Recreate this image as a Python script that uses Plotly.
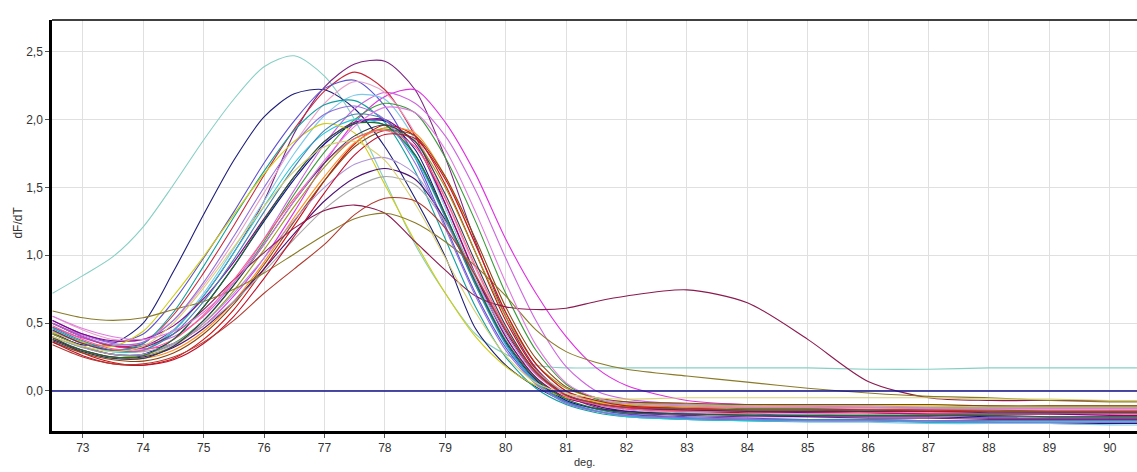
import plotly.graph_objects as go

# Temperature grid (deg.)
temps = [72.5, 73.0, 73.5, 74.0, 74.5, 75.0, 75.5, 76.0, 76.5, 77.0, 77.5, 78.0, 78.5, 79.0,
         79.5, 80.0, 80.5, 81.0, 81.5, 82.0, 83.0, 84.0, 85.0, 86.0, 87.0, 88.0, 89.0, 90.0, 90.6]

# dF/dT series
s_lightteal = [0.72,0.85,0.99,1.21,1.52,1.85,2.15,2.39,2.47,2.32,2.00,1.55,1.08,0.72,0.42,0.27,0.19,0.17,0.17,0.17,0.17,0.17,0.17,0.16,0.16,0.17,0.17,0.17,0.17]
s_navy = [0.42,0.34,0.35,0.50,0.88,1.30,1.70,2.02,2.19,2.22,2.08,1.80,1.42,0.99,0.46,0.19,0.03,-0.08,-0.14,-0.17,-0.20,-0.21,-0.22,-0.22,-0.23,-0.23,-0.24,-0.24,-0.24]
s_purple = [0.50,0.40,0.33,0.33,0.45,0.70,1.02,1.40,1.90,2.24,2.41,2.43,2.22,1.72,1.10,0.55,0.17,-0.03,-0.12,-0.16,-0.18,-0.19,-0.19,-0.20,-0.20,-0.21,-0.21,-0.21,-0.21]
s_magenta = [0.47,0.39,0.33,0.31,0.35,0.48,0.70,0.98,1.32,1.68,1.98,2.17,2.22,1.98,1.60,1.12,0.72,0.40,0.17,0.04,-0.07,-0.10,-0.11,-0.12,-0.12,-0.12,-0.12,-0.12,-0.12]
s_violetpink = [0.50,0.41,0.35,0.34,0.40,0.55,0.80,1.12,1.48,1.82,2.08,2.20,2.12,1.88,1.48,0.98,0.52,0.18,0.00,-0.06,-0.10,-0.12,-0.13,-0.13,-0.14,-0.14,-0.14,-0.14,-0.14]
s_crimson = [0.50,0.40,0.33,0.35,0.56,0.87,1.22,1.59,1.93,2.21,2.35,2.22,1.88,1.38,0.85,0.40,0.10,-0.05,-0.10,-0.12,-0.13,-0.14,-0.14,-0.15,-0.15,-0.15,-0.16,-0.16,-0.16]
s_blueviolet = [0.52,0.42,0.36,0.42,0.66,0.98,1.32,1.68,1.99,2.23,2.29,2.10,1.72,1.22,0.72,0.32,0.06,-0.08,-0.14,-0.17,-0.19,-0.20,-0.21,-0.21,-0.22,-0.22,-0.22,-0.22,-0.22]
s_lightpink = [0.55,0.45,0.38,0.38,0.52,0.78,1.10,1.46,1.82,2.12,2.28,2.20,1.90,1.42,0.90,0.45,0.14,-0.02,-0.08,-0.11,-0.12,-0.12,-0.12,-0.13,-0.13,-0.13,-0.13,-0.13,-0.13]
s_skyblue = [0.44,0.35,0.29,0.30,0.45,0.72,1.05,1.40,1.75,2.03,2.18,2.15,1.85,1.35,0.82,0.38,0.08,-0.07,-0.14,-0.18,-0.21,-0.22,-0.23,-0.23,-0.24,-0.24,-0.24,-0.25,-0.25]
s_teal = [0.46,0.36,0.30,0.35,0.58,0.92,1.28,1.62,1.92,2.11,2.14,1.98,1.62,1.12,0.62,0.25,0.02,-0.10,-0.16,-0.19,-0.21,-0.22,-0.22,-0.22,-0.22,-0.23,-0.23,-0.23,-0.23]
s_green = [0.40,0.32,0.27,0.27,0.35,0.52,0.78,1.10,1.45,1.76,2.00,2.12,2.05,1.72,1.25,0.72,0.30,0.05,-0.06,-0.10,-0.12,-0.13,-0.13,-0.14,-0.14,-0.14,-0.15,-0.15,-0.15]
s_darkblue = [0.43,0.33,0.27,0.27,0.38,0.62,0.92,1.25,1.56,1.82,1.97,1.99,1.78,1.30,0.80,0.36,0.08,-0.07,-0.13,-0.15,-0.17,-0.17,-0.18,-0.18,-0.18,-0.19,-0.19,-0.19,-0.19]
s_red = [0.40,0.28,0.21,0.19,0.24,0.38,0.60,0.90,1.22,1.55,1.82,1.96,1.88,1.52,1.02,0.52,0.16,-0.03,-0.10,-0.13,-0.15,-0.16,-0.16,-0.16,-0.17,-0.17,-0.17,-0.17,-0.17]
s_orange = [0.38,0.30,0.25,0.24,0.30,0.44,0.66,0.95,1.28,1.58,1.83,1.94,1.90,1.58,1.08,0.58,0.20,0.00,-0.08,-0.11,-0.12,-0.12,-0.12,-0.12,-0.13,-0.13,-0.13,-0.13,-0.13]
s_olive = [0.42,0.33,0.27,0.26,0.33,0.50,0.74,1.04,1.36,1.65,1.86,1.93,1.84,1.50,1.02,0.55,0.20,0.02,-0.05,-0.08,-0.10,-0.10,-0.10,-0.10,-0.10,-0.11,-0.11,-0.11,-0.11]
s_cyan = [0.45,0.35,0.29,0.30,0.44,0.70,1.02,1.36,1.68,1.90,2.00,1.96,1.72,1.28,0.78,0.34,0.06,-0.09,-0.15,-0.19,-0.21,-0.22,-0.22,-0.22,-0.23,-0.23,-0.23,-0.23,-0.23]
s_darkmagenta = [0.52,0.42,0.37,0.38,0.48,0.68,0.95,1.27,1.58,1.84,1.98,2.00,1.82,1.38,0.86,0.40,0.10,-0.05,-0.10,-0.13,-0.14,-0.15,-0.16,-0.16,-0.17,-0.17,-0.17,-0.18,-0.18]
s_brown = [0.36,0.28,0.23,0.22,0.28,0.42,0.64,0.93,1.25,1.55,1.80,1.92,1.88,1.58,1.12,0.62,0.24,0.03,-0.05,-0.08,-0.09,-0.10,-0.10,-0.10,-0.10,-0.11,-0.11,-0.11,-0.11]
s_yellow = [0.43,0.36,0.33,0.44,0.70,0.99,1.30,1.60,1.84,1.97,1.90,1.52,1.10,0.72,0.40,0.18,0.04,-0.05,-0.08,-0.10,-0.11,-0.11,-0.11,-0.11,-0.11,-0.12,-0.12,-0.12,-0.12]
s_lavender = [0.40,0.32,0.27,0.27,0.34,0.50,0.72,0.98,1.26,1.50,1.67,1.72,1.60,1.25,0.82,0.42,0.12,-0.03,-0.10,-0.14,-0.16,-0.17,-0.17,-0.18,-0.18,-0.18,-0.19,-0.19,-0.19]
s_darkpurple = [0.38,0.30,0.25,0.25,0.32,0.46,0.66,0.90,1.16,1.40,1.57,1.64,1.56,1.26,0.85,0.44,0.13,-0.03,-0.11,-0.15,-0.17,-0.18,-0.19,-0.19,-0.19,-0.20,-0.20,-0.20,-0.20]
s_gray = [0.44,0.35,0.30,0.29,0.35,0.48,0.66,0.88,1.12,1.34,1.50,1.58,1.52,1.25,0.86,0.45,0.15,-0.01,-0.07,-0.09,-0.10,-0.11,-0.11,-0.11,-0.12,-0.12,-0.12,-0.12,-0.12]
s_maroon2peak = [0.45,0.35,0.30,0.32,0.42,0.60,0.82,1.02,1.20,1.33,1.37,1.31,1.10,0.89,0.70,0.62,0.60,0.61,0.66,0.70,0.745,0.65,0.38,0.07,-0.05,-0.07,-0.07,-0.07,-0.07]
s_olivebrown = [0.59,0.54,0.52,0.54,0.60,0.66,0.75,0.87,1.01,1.15,1.27,1.31,1.24,1.10,0.92,0.70,0.45,0.29,0.21,0.16,0.11,0.065,0.02,-0.015,-0.04,-0.05,-0.07,-0.08,-0.08]
s_steelblue = [0.47,0.37,0.30,0.30,0.42,0.66,0.97,1.32,1.65,1.92,2.04,2.00,1.74,1.28,0.78,0.35,0.07,-0.08,-0.15,-0.18,-0.20,-0.21,-0.21,-0.21,-0.22,-0.22,-0.22,-0.22,-0.22]
s_rose = [0.48,0.38,0.31,0.30,0.38,0.56,0.82,1.12,1.42,1.68,1.86,1.92,1.80,1.42,0.92,0.46,0.13,-0.04,-0.10,-0.13,-0.15,-0.15,-0.15,-0.16,-0.16,-0.16,-0.16,-0.16,-0.16]
s_darkgreen = [0.39,0.30,0.25,0.26,0.38,0.62,0.92,1.26,1.58,1.84,1.97,1.96,1.74,1.30,0.80,0.37,0.09,-0.06,-0.13,-0.16,-0.17,-0.18,-0.18,-0.18,-0.18,-0.18,-0.19,-0.19,-0.19]
s_mediumpurple = [0.50,0.40,0.34,0.36,0.52,0.80,1.14,1.50,1.82,2.04,2.10,2.00,1.68,1.20,0.70,0.30,0.05,-0.09,-0.15,-0.18,-0.20,-0.21,-0.22,-0.22,-0.22,-0.23,-0.23,-0.23,-0.23]
s_slate = [0.37,0.29,0.24,0.24,0.33,0.52,0.78,1.08,1.40,1.68,1.88,1.96,1.84,1.45,0.95,0.48,0.14,-0.03,-0.09,-0.12,-0.14,-0.15,-0.15,-0.15,-0.15,-0.16,-0.16,-0.16,-0.16]
s_crimsonlow = [0.36,0.26,0.20,0.19,0.23,0.35,0.55,0.83,1.14,1.46,1.74,1.89,1.86,1.56,1.08,0.58,0.20,0.00,-0.07,-0.11,-0.13,-0.14,-0.14,-0.14,-0.15,-0.15,-0.15,-0.15,-0.15]
s_violet = [0.55,0.46,0.40,0.38,0.44,0.58,0.80,1.08,1.40,1.70,1.95,2.09,2.05,1.78,1.32,0.80,0.34,0.06,-0.05,-0.09,-0.11,-0.12,-0.12,-0.12,-0.13,-0.13,-0.13,-0.13,-0.13]
s_khaki = [0.40,0.33,0.29,0.33,0.50,0.76,1.06,1.36,1.62,1.80,1.84,1.70,1.38,0.98,0.58,0.26,0.06,-0.02,-0.05,-0.06,-0.05,-0.05,-0.05,-0.05,-0.05,-0.06,-0.06,-0.07,-0.07]
s_brick = [0.34,0.25,0.20,0.20,0.25,0.36,0.52,0.72,0.90,1.08,1.30,1.42,1.40,1.20,0.85,0.45,0.14,-0.03,-0.09,-0.12,-0.13,-0.14,-0.14,-0.14,-0.14,-0.15,-0.15,-0.15,-0.15]

series = [
    (s_lightteal, "#86cfc4"), (s_navy, "#1c1c78"), (s_purple, "#7b2380"), (s_magenta, "#e02ee0"),
    (s_violetpink, "#cc66dd"), (s_crimson, "#c8283c"), (s_blueviolet, "#5a4fcf"), (s_lightpink, "#e8a0c8"),
    (s_skyblue, "#7ec8e8"), (s_teal, "#10a0a0"), (s_green, "#3a9a3a"), (s_darkblue, "#101090"),
    (s_red, "#d01010"), (s_orange, "#ff8c1a"), (s_olive, "#9a9a22"), (s_cyan, "#1ec8d8"),
    (s_darkmagenta, "#8b008b"), (s_brown, "#8b4513"), (s_yellow, "#d0cc10"), (s_lavender, "#b094d8"),
    (s_darkpurple, "#4b1070"), (s_gray, "#a8a8a8"), (s_maroon2peak, "#8b1a50"), (s_olivebrown, "#8a7a28"),
    (s_steelblue, "#4682b4"), (s_rose, "#ff5c8a"), (s_darkgreen, "#1d6b2a"), (s_mediumpurple, "#9370db"),
    (s_slate, "#2f3f4f"), (s_crimsonlow, "#c0102a"), (s_violet, "#e07ae0"), (s_khaki, "#d8d070"),
    (s_brick, "#b03a2e"),
]

y_ticks = [0.0, 0.5, 1.0, 1.5, 2.0, 2.5]
y_ticktext = ["0,0", "0,5", "1,0", "1,5", "2,0", "2,5"]
x_ticks = list(range(73, 91))

fig = go.Figure()
for vals, col in series:
    fig.add_trace(go.Scatter(x=temps, y=vals, mode="lines",
                             line=dict(color=col, width=1.1, shape="spline", smoothing=0.8),
                             showlegend=False, hoverinfo="skip"))

fig.add_hline(y=0, line=dict(color="#10108a", width=1.5), layer="above")

font_family = "Liberation Sans, Arial, sans-serif"
fig.update_layout(
    width=1137, height=472,
    margin=dict(l=52, r=0, t=20, b=41),
    paper_bgcolor="white", plot_bgcolor="white",
    font=dict(family=font_family, size=12, color="#333"),
    xaxis=dict(range=[72.49, 90.45], tickvals=x_ticks, ticks="outside", ticklen=4,
               tickcolor="#555", showgrid=True, gridcolor="#e0e0e0", gridwidth=1,
               showline=True, linecolor="black", linewidth=3, mirror=False,
               zeroline=False, tickfont=dict(size=12, color="#333")),
    yaxis=dict(range=[-0.295, 2.734], tickvals=y_ticks, ticktext=y_ticktext,
               ticks="outside", ticklen=4, tickcolor="#555",
               showgrid=True, gridcolor="#e0e0e0", gridwidth=1,
               showline=True, linecolor="black", linewidth=2.5,
               zeroline=False, tickfont=dict(size=12, color="#333")),
    annotations=[
        dict(text="deg.", xref="paper", yref="paper", x=0.491, y=-0.075,
             showarrow=False, xanchor="center", yanchor="middle",
             font=dict(size=11, color="#333")),
        dict(text="dF/dT", xref="paper", yref="paper", x=-0.031, y=0.508,
             showarrow=False, textangle=-90, xanchor="center", yanchor="middle",
             font=dict(size=12, color="#333")),
    ],
)
# thin top border
fig.add_shape(type="line", xref="paper", yref="paper", x0=0, x1=1, y0=1, y1=1,
              line=dict(color="black", width=1.5))

fig.write_html("out.html")
